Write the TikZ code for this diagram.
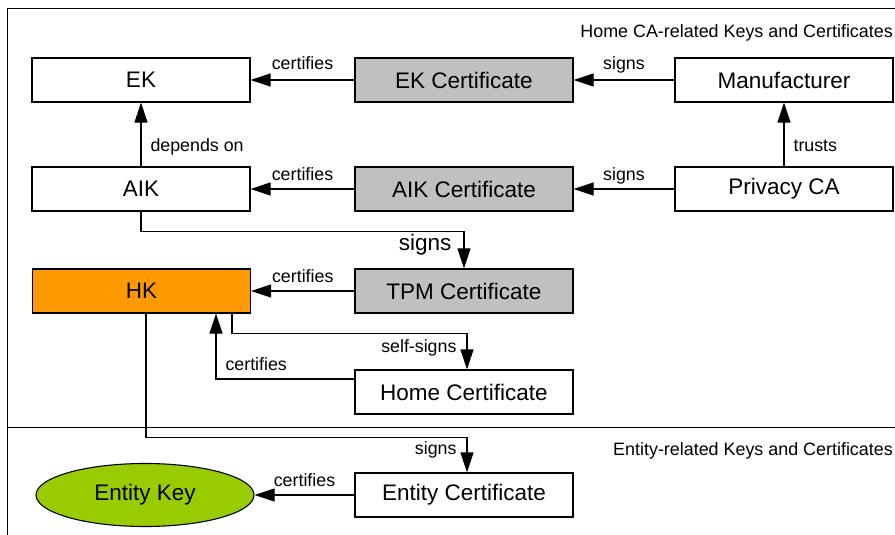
\documentclass[tikz,border=0pt]{standalone}
\usepackage{fontspec}
\setmainfont{Liberation Sans}
\usetikzlibrary{arrows.meta,shapes.geometric}
\definecolor{certgray}{HTML}{C0C0C0}
\definecolor{hkorange}{HTML}{FF9900}
\definecolor{entgreen}{HTML}{99CC00}
\begin{document}
\begin{tikzpicture}[x=1pt,y=-1pt,
  box/.style={draw, line width=1.1pt, minimum width=218pt, minimum height=44pt, inner sep=0pt, font=\fontsize{22.5}{26}\selectfont},
  cert/.style={box, fill=certgray},
  arr/.style={line width=1.1pt, -{Triangle[length=20pt,width=13pt]}},
  lab/.style={font=\fontsize{17.8}{21}\selectfont, inner sep=0pt},
  titlelab/.style={font=\fontsize{17.9}{21}\selectfont, inner sep=0pt},
  biglab/.style={font=\fontsize{22.5}{26}\selectfont, inner sep=0pt},
  framel/.style={line width=1pt}
]
\useasboundingbox (0,0) rectangle (895,535);
% frame and separator
\draw[framel] (895,9) -- (7.5,9) -- (7.5,535);
\draw[framel] (7.5,427) -- (895,427);
% section titles
\node[titlelab, anchor=base east] (T1) at (893,38) {Home CA-related Keys and Certificates};
\node[titlelab, anchor=base east] (T2) at (893,455) {Entity-related Keys and Certificates};
% nodes
\node[box] (EK) at (141,80) {EK};
\node[cert] (EKC) at (464,80) {EK Certificate};
\node[box] (MAN) at (784,80) {Manufacturer};
\node[box] (AIK) at (141,189) {AIK};
\node[cert] (AIKC) at (464,189) {AIK Certificate};
\node[box] (PCA) at (784,189) {Privacy CA};
\node[box, fill=hkorange] (HK) at (141.5,291) {HK};
\node[cert] (TPM) at (464,291) {TPM Certificate};
\node[box] (HOME) at (464,392) {Home Certificate};
\node[box, ellipse, fill=entgreen, minimum height=63pt] (ENTK) at (145,495) {Entity Key};
\node[box] (ENTC) at (464,495) {Entity Certificate};
% connectors
\draw[arr] (EKC) -- node[lab, midway, anchor=base, yshift=10pt] (L1) {certifies} (EK);
\draw[arr] (MAN) -- node[lab, midway, anchor=base, yshift=10pt] (L2) {signs} (EKC);
\draw[arr] (AIK) -- node[lab, pos=0.23, anchor=base west, xshift=9pt] (L3) {depends on} (EK);
\draw[arr] (PCA) -- node[lab, pos=0.23, anchor=base west, xshift=9pt] (L4) {trusts} (MAN);
\draw[arr] (AIKC) -- node[lab, midway, anchor=base, yshift=9pt] (L5) {certifies} (AIK);
\draw[arr] (PCA) -- node[lab, midway, anchor=base, yshift=9pt] (L6) {signs} (AIKC);
\draw[arr] (AIK.south) -- ++(0,20) -| node[biglab, pos=0.5, anchor=base east, xshift=-12pt, yshift=-19pt] (L7) {signs} (TPM.north);
\draw[arr] (TPM) -- node[lab, midway, anchor=base, yshift=9pt] (L8) {certifies} (HK);
\draw[arr] ([xshift=90.5pt]HK.south) -- ++(0,20) -| node[lab, pos=0.5, anchor=base east, xshift=-10pt, yshift=-19pt] (L9) {self-signs} ([xshift=3pt]HOME.north);
\draw[arr] ([yshift=13pt]HOME.west) -| node[lab, pos=0.5, anchor=base west, xshift=9pt, yshift=9pt] (L10) {certifies} ([xshift=74.5pt]HK.south);
\draw[arr] ([xshift=4.5pt]HK.south) -- ++(0,124) -| node[lab, pos=0.5, anchor=base east, xshift=-10pt, yshift=-17pt] (L11) {signs} ([xshift=3pt]ENTC.north);
\draw[arr] (ENTC) -- node[lab, midway, anchor=base, yshift=9pt] (L12) {certifies} (ENTK);
\end{tikzpicture}
\end{document}
